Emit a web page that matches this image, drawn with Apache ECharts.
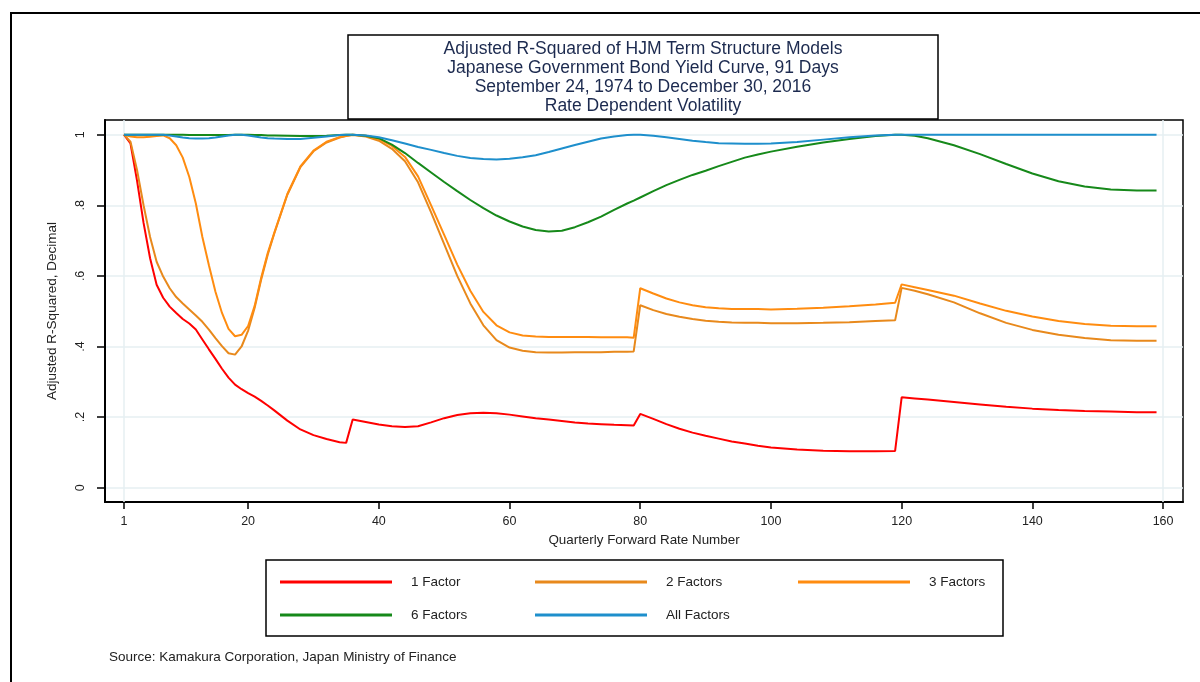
<!DOCTYPE html>
<html>
<head>
<meta charset="utf-8">
<script src="https://cdn.jsdelivr.net/npm/echarts@6/dist/echarts.min.js"></script>
<style>html,body{margin:0;padding:0;background:#fff}#c{width:1200px;height:682px}</style>
</head>
<body>
<div id="c"></div>
<script>
// Quarterly forward rate numbers at which values were read
const forwardRate = [1,2,3,4,5,6,7,8,9,10,11,12,13,14,15,16,17,18,19,20,21,22,23,24,26,28,30,32,34,35,36,38,40,42,44,46,48,50,52,54,56,58,60,62,64,66,68,70,72,74,76,78,79,80,82,84,86,88,90,92,94,96,98,100,104,108,112,116,119,120,122,124,128,132,136,140,144,148,152,156,159];

const factor1 = [1.0,0.975,0.87,0.75,0.65,0.575,0.538,0.513,0.495,0.478,0.465,0.448,0.42,0.392,0.365,0.337,0.312,0.292,0.279,0.268,0.258,0.246,0.233,0.219,
0.19,0.165,0.149,0.138,0.129,0.127,0.193,
0.186,0.179,0.174,0.172,0.174,0.185,0.197,0.206,0.211,0.212,0.211,0.207,0.202,0.197,0.193,0.189,0.185,0.182,0.180,0.178,0.177,
0.176,0.209,
0.195,0.180,0.167,0.156,0.147,0.139,0.131,0.125,0.119,0.114,
0.108,0.105,0.103,0.103,0.104,0.256,0.253,0.25,
0.243,0.236,0.229,0.224,0.220,0.217,0.216,0.214,0.214];

const factor2 = [1.0,0.98,0.90,0.80,0.71,0.64,0.598,0.565,0.54,0.522,0.505,0.488,0.47,0.448,0.424,0.401,0.381,0.377,0.40,0.445,0.51,0.59,0.66,0.72,
0.83,0.908,0.953,0.978,0.992,0.996,0.999,
0.995,0.983,0.96,0.925,0.865,0.78,0.69,0.60,0.522,0.46,0.418,0.397,0.388,0.384,0.383,0.383,0.384,0.384,0.384,0.385,0.385,
0.386,0.517,
0.503,0.492,0.484,0.478,0.473,0.470,0.468,0.467,0.467,0.466,
0.466,0.467,0.469,0.472,0.474,0.566,0.558,0.548,
0.525,0.494,0.467,0.447,0.433,0.424,0.418,0.416,0.416];

const factor3 = [1.0,0.995,0.993,0.993,0.994,0.996,0.998,0.99,0.97,0.935,0.88,0.805,0.71,0.63,0.555,0.495,0.45,0.429,0.433,0.458,0.515,0.595,0.665,0.722,
0.832,0.91,0.955,0.98,0.993,0.997,1.0,
0.997,0.988,0.968,0.937,0.882,0.80,0.716,0.632,0.558,0.498,0.46,0.44,0.431,0.428,0.427,0.427,0.427,0.427,0.426,0.426,0.426,
0.425,0.565,
0.55,0.536,0.525,0.517,0.511,0.508,0.506,0.506,0.506,0.505,
0.507,0.51,0.514,0.519,0.524,0.576,0.568,0.56,
0.544,0.522,0.501,0.485,0.472,0.464,0.459,0.457,0.457];

const factor6 = [1,1,1,1,1,1,1,1,1,1,0.999,0.999,0.999,0.999,0.999,0.999,0.999,1,1,1,0.999,0.999,0.998,0.998,
0.997,0.996,0.996,0.997,0.999,1,1,
0.997,0.99,0.972,0.948,0.92,0.893,0.866,0.84,0.815,0.792,0.771,0.754,0.74,0.73,0.726,0.728,0.738,0.752,0.768,0.787,0.805,
0.813,0.822,
0.84,0.857,0.872,0.886,0.898,0.911,0.923,0.935,0.944,0.952,
0.966,0.978,0.988,0.996,1.0,1.0,0.997,0.99,
0.97,0.945,0.917,0.89,0.868,0.853,0.845,0.842,0.842];

const factorAll = [1,1,1,1,1,1,1,0.998,0.995,0.992,0.99,0.989,0.989,0.99,0.992,0.995,0.998,1,1,0.998,0.995,0.992,0.99,0.989,
0.988,0.988,0.991,0.995,0.999,1,1,
0.998,0.993,0.984,0.975,0.965,0.957,0.948,0.94,0.934,0.931,0.93,0.932,0.936,0.942,0.951,0.961,0.971,0.98,0.989,0.995,0.999,
1,1,
0.997,0.993,0.988,0.983,0.979,0.976,0.975,0.974,0.974,0.975,
0.979,0.986,0.993,0.998,1,1,1,1,
1,1,1,1,1,1,1,1,1];

const seriesNames = ['1 Factor','2 Factors','3 Factors','6 Factors','All Factors'];
const seriesValues = [factor1, factor2, factor3, factor6, factorAll];
const seriesColors = ['#ff0000','#e8891c','#ff8c10','#16891a','#1e8fcc'];
const xTicks = [1,20,40,60,80,100,120,140,160];
const yTicks = [0,0.2,0.4,0.6,0.8,1];
const titleLines = ['Adjusted R-Squared of HJM Term Structure Models','Japanese Government Bond Yield Curve, 91 Days','September 24, 1974 to December 30, 2016','Rate Dependent Volatility'];
const sourceText = 'Source: Kamakura Corporation, Japan Ministry of Finance';

const FONT = '"Liberation Sans", Arial, sans-serif';
const chart = echarts.init(document.getElementById('c'), null, {renderer:'canvas'});

const legendPos = [[280,574],[535,574],[798,574],[280,607],[535,607]];

const series = seriesNames.map((n,i)=>({
  name:n, type:'line', symbol:'none', showSymbol:false,
  lineStyle:{color:seriesColors[i], width:2},
  itemStyle:{color:seriesColors[i]},
  data: forwardRate.map((x,j)=>[x, seriesValues[i][j]]),
  z: 3+i,
  animation:false
}));
series[0].markLine = {
  silent:true, symbol:'none', label:{show:false},
  lineStyle:{color:'#e6eff2', width:1.5, type:'solid'},
  data:[{xAxis:1},{xAxis:160}], z:1
};

const option = {
  animation:false,
  backgroundColor:'#fff',
  title:[
    {text:titleLines.join('\n'), left:643, top:40, padding:0, textAlign:'center',
     textStyle:{fontFamily:FONT, fontSize:17.5, fontWeight:'normal', color:'#1c2a4f', lineHeight:19}},
    {text:sourceText, left:109, top:650, padding:0,
     textStyle:{fontFamily:FONT, fontSize:13.5, fontWeight:'normal', color:'#222'}}
  ],
  legend: seriesNames.map((n,i)=>({
    data:[n], left:legendPos[i][0], top:legendPos[i][1], padding:0,
    icon:'rect', itemWidth:112, itemHeight:3,
    selectedMode:false,
    textStyle:{fontFamily:FONT, fontSize:13.5, color:'#222', padding:[0,0,0,14], lineHeight:16}
  })),
  grid:{left:105, right:17, top:120, bottom:180, show:true, borderColor:'#000', borderWidth:1.5, backgroundColor:'#fff'},
  xAxis:{
    type:'value', min:-1.9, max:163.05,
    name:'Quarterly Forward Rate Number', nameLocation:'middle', nameGap:32,
    nameTextStyle:{fontFamily:FONT, fontSize:13.4, color:'#222'},
    axisLine:{show:true, onZero:false, lineStyle:{color:'#000', width:2}},
    axisTick:{show:true, length:7, lineStyle:{color:'#000', width:1.5}, customValues:xTicks},
    axisLabel:{fontFamily:FONT, fontSize:12.5, color:'#222', margin:13, customValues:xTicks},
    splitLine:{show:false}
  },
  yAxis:{
    type:'value', min:-0.0405, max:1.0416,
    name:'Adjusted R-Squared, Decimal', nameLocation:'middle', nameGap:46, nameRotate:90,
    nameTextStyle:{fontFamily:FONT, fontSize:13.5, color:'#222'},
    axisLine:{show:true, onZero:false, lineStyle:{color:'#000', width:2}},
    axisTick:{show:true, length:8, lineStyle:{color:'#000', width:1.5}, customValues:yTicks},
    axisLabel:{fontFamily:FONT, fontSize:12.5, color:'#222', margin:18, rotate:90, customValues:yTicks,
      formatter:v=>{ if (Math.abs(v)<1e-9) return '0'; if (Math.abs(v-1)<1e-9) return '1'; return String(Math.round(v*10)/10).replace(/^0\./,'.'); }},
    splitLine:{show:true, lineStyle:{color:'#e6eff2', width:1.5}}
  },
  graphic:[
    {type:'rect', shape:{x:11,y:13,width:1200,height:700}, style:{fill:null, stroke:'#000', lineWidth:2}, silent:true, z:-1},
    {type:'rect', shape:{x:348,y:35,width:590,height:84}, style:{fill:'#fff', stroke:'#000', lineWidth:1.5}, silent:true, z:-1},
    {type:'rect', shape:{x:266,y:560,width:737,height:76}, style:{fill:null, stroke:'#000', lineWidth:1.5}, silent:true, z:-1}
  ],
  series: series
};
chart.setOption(option);
</script>
</body>
</html>
